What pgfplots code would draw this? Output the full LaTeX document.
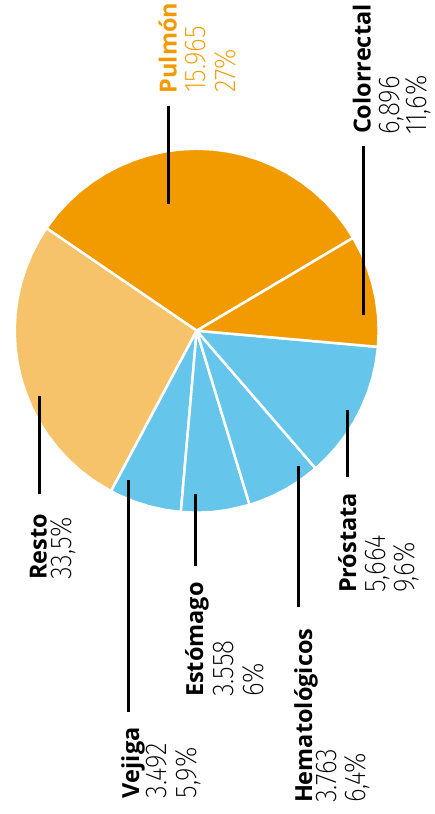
\documentclass[border=0pt]{standalone}
\usepackage{pgfplots}
\pgfplotsset{compat=1.18}
\usepackage{fontspec}
\setmainfont{Open Sans}
\newfontfamily\nmfont{Open Sans}
\IfFontExistsTF{Fira Sans ExtraLight}{\newfontfamily\ltfont{Fira Sans ExtraLight}[FakeStretch=0.87]}{%
 \IfFontExistsTF{Fira Sans Light}{\newfontfamily\ltfont{Fira Sans Light}[FakeStretch=0.87]}{%
 \newfontfamily\ltfont{Fira Sans}[FakeStretch=0.87]}}
\definecolor{cOrange}{RGB}{242,155,0}
\definecolor{cLight}{RGB}{246,194,106}
\definecolor{cBlue}{RGB}{102,197,235}
\newcommand{\nm}[1]{{\nmfont\bfseries\fontsize{23.5}{24}\selectfont #1}}
\newcommand{\vl}[1]{{\ltfont\fontsize{30}{30}\selectfont #1}}
\begin{document}
\begin{tikzpicture}
\useasboundingbox (0,0) rectangle (434pt,814pt);
\begin{axis}[at={(0,0)}, anchor=south west, scale only axis,
  width=434pt, height=814pt,
  xmin=-196.7, xmax=237.3, ymin=-483.3, ymax=330.7,
  hide axis, clip=false]
% slices (angle, radius) in polar coordinates
\addplot[data cs=polar, fill=cOrange, draw=white, line width=2.5pt, line join=round] coordinates {
(0,0) (30.7,182) (35,182) (40,182) (45,182) (50,182) (55,182) (60,182) (65,182) (70,182) (75,182) (80,182) (85,182) (90,182) (95,182) (100,182) (105,182) (110,182) (115,182) (120,182) (125,182) (130,182) (135,182) (140,182) (145.7,182) (0,0)};
\addplot[data cs=polar, fill=cLight, draw=white, line width=2.5pt, line join=round] coordinates {
(0,0) (145.7,182) (150,182) (155,182) (160,182) (165,182) (170,182) (175,182) (180,182) (185,182) (190,182) (195,182) (200,182) (205,182) (210,182) (215,182) (220,182) (225,182) (230,182) (235,182) (241.9,182) (0,0)};
\addplot[data cs=polar, fill=cBlue, draw=white, line width=2.5pt, line join=round] coordinates {
(0,0) (241.9,182) (245,182) (250,182) (255,182) (260,182) (265.0,182) (0,0)};
\addplot[data cs=polar, fill=cBlue, draw=white, line width=2.5pt, line join=round] coordinates {
(0,0) (265.0,182) (270,182) (275,182) (280,182) (286.9,182) (0,0)};
\addplot[data cs=polar, fill=cBlue, draw=white, line width=2.5pt, line join=round] coordinates {
(0,0) (286.9,182) (290,182) (295,182) (300,182) (305,182) (310.8,182) (0,0)};
\addplot[data cs=polar, fill=cBlue, draw=white, line width=2.5pt, line join=round] coordinates {
(0,0) (310.8,182) (315,182) (320,182) (325,182) (330,182) (335,182) (340,182) (345,182) (350,182) (354.9,182) (0,0)};
\addplot[data cs=polar, fill=cOrange, draw=white, line width=2.5pt, line join=round] coordinates {
(0,0) (354.9,182) (360,182) (365,182) (370,182) (375,182) (380,182) (385,182) (390.7,182) (0,0)};
% leader lines
\addplot[black, line width=3pt] coordinates {(-28.4,224.7) (-28.4,126.7)};
\addplot[black, line width=3pt] coordinates {(166.6,184.7) (166.6,15.7)};
\addplot[black, line width=3pt] coordinates {(-157.7,-65.3) (-157.7,-163.3)};
\addplot[black, line width=3pt] coordinates {(-68.4,-149.3) (-68.4,-381.3)};
\addplot[black, line width=3pt] coordinates {(-1,-163.3) (-1,-235.3)};
\addplot[black, line width=3pt] coordinates {(101.6,-135.3) (101.6,-276.3)};
\addplot[black, line width=3pt] coordinates {(151,-79.3) (151,-146.3)};
% labels
\begin{scope}[every node/.style={rotate=90, anchor=base west, inner sep=0pt, outer sep=0pt}]
\node[text=cOrange] at (axis cs:-20,237.4) {\nm{Pulmón}};
\node[text=cOrange] at (axis cs:8.3,237.7) {\vl{15.965}};
\node[text=cOrange] at (axis cs:38.3,237.7) {\vl{27\%}};
\node at (axis cs:174,196.7) {\nm{Colorrectal}};
\node at (axis cs:203,195.7) {\vl{6,896}};
\node at (axis cs:229.5,195.7) {\vl{11,6\%}};
\node at (axis cs:-150,-249.3) {\nm{Resto}};
\node at (axis cs:-125,-249.3) {\vl{33,5\%}};
\node at (axis cs:-57.7,-467.3) {\nm{Vejiga}};
\node at (axis cs:-30,-467.3) {\vl{3.492}};
\node at (axis cs:0,-467.3) {\vl{5,9\%}};
\node at (axis cs:6.3,-366.3) {\nm{Estómago}};
\node at (axis cs:36.3,-366.3) {\vl{3.558}};
\node at (axis cs:66.3,-366.3) {\vl{6\%}};
\node at (axis cs:115.3,-472.3) {\nm{Hematológicos}};
\node at (axis cs:139.3,-472.3) {\vl{3.763}};
\node at (axis cs:168.3,-472.3) {\vl{6,4\%}};
\node at (axis cs:159.3,-262.3) {\nm{Próstata}};
\node at (axis cs:188.3,-262.3) {\vl{5,664}};
\node at (axis cs:217.3,-262.3) {\vl{9,6\%}};
\end{scope}
\end{axis}
\end{tikzpicture}
\end{document}
